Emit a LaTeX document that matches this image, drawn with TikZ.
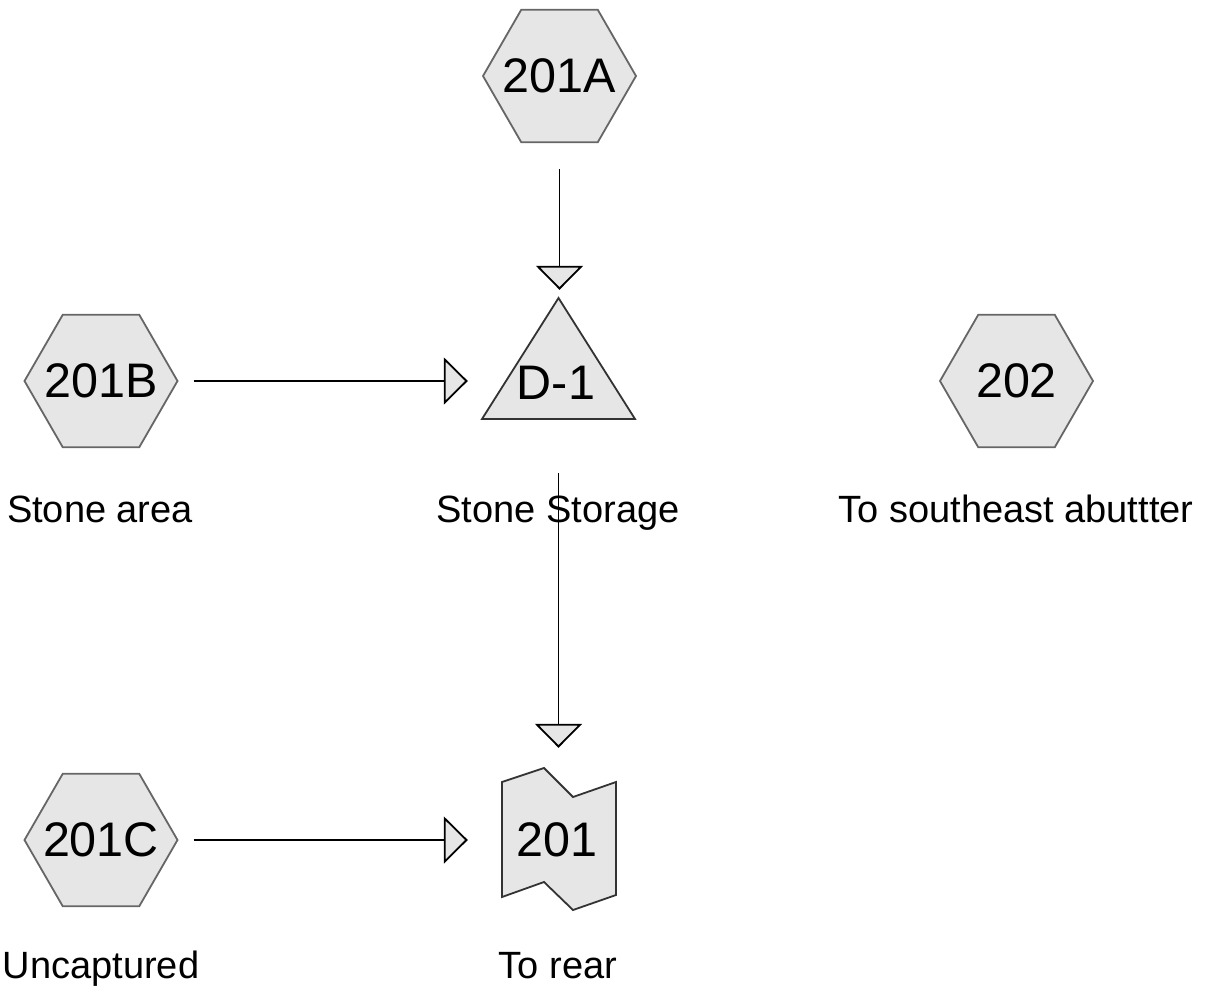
\documentclass[tikz,border=0pt]{standalone}
\usepackage{fontspec}
\setmainfont{Liberation Sans}
\usetikzlibrary{shapes.geometric,arrows.meta,calc}

\definecolor{hexfill}{RGB}{230,230,230}
\definecolor{hexline}{RGB}{102,102,102}
\definecolor{darkline}{RGB}{51,51,51}

\tikzset{
  bigfont/.style={font=\fontsize{48.5}{56}\selectfont},
  hexnode/.style={regular polygon, regular polygon sides=6, minimum size=153pt, inner sep=0pt,
    draw=hexline, fill=hexfill, line width=1.8pt, label={[bigfont, inner sep=0pt]center:#1}},
  boxnode/.style={rectangle, inner sep=0pt, draw=none},
  tagnode/.style={anchor=base, inner sep=0pt, font=\fontsize{38}{46}\selectfont},
  flow/.style={line width=1.8pt, -{Triangle[length=24pt, width=47pt, fill=hexfill, line width=1.8pt]}}
}

\begin{document}
\begin{tikzpicture}[x=1pt,y=-1pt]
\useasboundingbox (0,0) rectangle (1209,990);

%Hexagons
\node[hexnode=201A] (h201a) at (559.5,76) {};
\node[hexnode=201B] (h201b) at (101,381) {};
\node[hexnode=201C] (h201c) at (101,840) {};
\node[hexnode=202] (h202) at (1016.5,381) {};

%Triangle D-1
\draw [draw=darkline, fill=hexfill, line width=1.8pt] (482,419) -- (558.5,298) -- (635,419) -- cycle;
\node[boxnode, minimum width=153pt, minimum height=121pt] (d1) at (558.5,358.5) {};
\node[boxnode, bigfont] (d1text) at (556,383) {D-1};

%Shape 201
\draw [draw=darkline, fill=hexfill, line width=1.8pt] (502,782) -- (544,768) -- (573,797) -- (616,782)
  -- (616,895) -- (573,910) -- (544,882) -- (502,897) -- cycle;
\node[boxnode, minimum width=114pt, minimum height=142pt] (r201) at (559,839) {};
\node[boxnode, bigfont] (r201text) at (557,840) {201};

%Labels
\node[tagnode] (tb) at (100,522) {Stone area};
\node[tagnode] (td) at (558,522) {Stone Storage};
\node[tagnode] (t202) at (1016,522) {To southeast abuttter};
\node[tagnode] (tc) at (101,978) {Uncaptured};
\node[tagnode] (tr) at (558,978) {To rear};

%Arrows
\draw [flow, shorten <=26pt, shorten >=8pt] (h201a.south) -- (h201a.south |- d1.north);
\draw [flow, shorten <=15pt, shorten >=14pt] (h201b.east) -- (h201b.east -| d1.west);
\draw [flow, shorten <=54pt, shorten >=20pt] (d1.south) -- (d1.south |- r201.north);
\draw [flow, shorten <=15pt, shorten >=34pt] (h201c.east) -- (h201c.east -| r201.west);

\end{tikzpicture}
\end{document}
